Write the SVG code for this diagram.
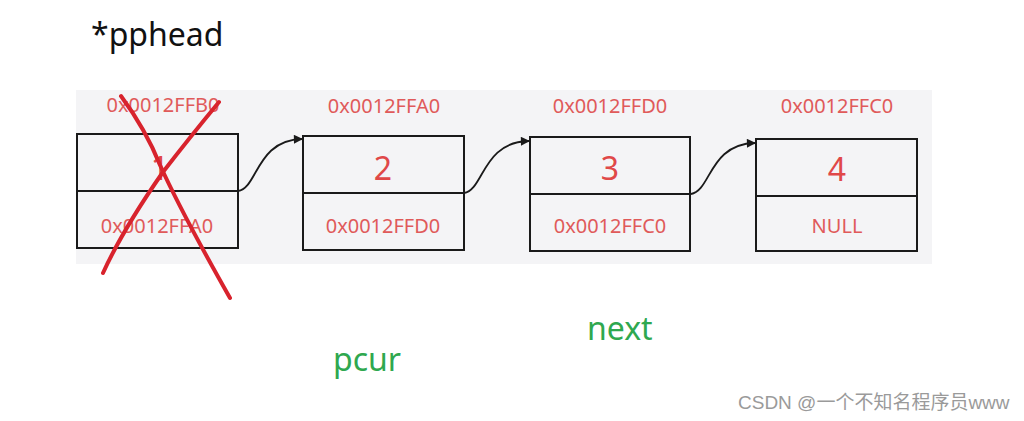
<svg xmlns="http://www.w3.org/2000/svg" width="1024" height="421" viewBox="0 0 1024 421">
<style>
.box{fill:none;stroke:#1a1a1a;stroke-width:2}
.addr{font-family:"Noto Sans","Open Sans",sans-serif;font-size:20px;fill:#e05a5a;text-anchor:middle}
.num{font-family:"Noto Sans","Open Sans",sans-serif;font-size:32px;fill:#e04848;text-anchor:middle}
.conn{fill:none;stroke:#1a1a1a;stroke-width:1.8}
.lbl{font-family:"Noto Sans","Open Sans",sans-serif;font-size:32px}
</style>
<defs>
<marker id="ah" viewBox="0 0 10 10" refX="9" refY="5" markerWidth="10" markerHeight="9" markerUnits="userSpaceOnUse" orient="auto">
<path d="M0,0 L10,5 L0,10 Z" fill="#1a1a1a"/>
</marker>
</defs>
<rect width="1024" height="421" fill="#ffffff"/>
<rect x="76" y="90" width="856" height="174" fill="#f4f4f6"/>
<text class="lbl" x="91" y="46" fill="#111" font-size="33">*pphead</text>
<g id="node1">
<text class="addr" x="163" y="112">0x0012FFB0</text>
<rect class="box" x="77" y="134" width="161" height="114"/>
<line class="box" x1="77" y1="191" x2="238" y2="191"/>
<text class="num" x="160" y="180">1</text>
<text class="addr" x="157" y="233">0x0012FFA0</text>
</g>
<g id="node2">
<text class="addr" x="384" y="113">0x0012FFA0</text>
<rect class="box" x="303" y="136" width="161" height="114"/>
<line class="box" x1="303" y1="193" x2="464" y2="193"/>
<text class="num" x="383" y="180">2</text>
<text class="addr" x="383" y="233">0x0012FFD0</text>
</g>
<g id="node3">
<text class="addr" x="610" y="113">0x0012FFD0</text>
<rect class="box" x="530" y="137" width="160" height="114"/>
<line class="box" x1="530" y1="194" x2="690" y2="194"/>
<text class="num" x="610" y="180">3</text>
<text class="addr" x="610" y="233">0x0012FFC0</text>
</g>
<g id="node4">
<text class="addr" x="837" y="113">0x0012FFC0</text>
<rect class="box" x="756" y="139" width="161" height="112"/>
<line class="box" x1="756" y1="196" x2="917" y2="196"/>
<text class="num" x="837" y="181">4</text>
<text class="addr" x="837" y="233">NULL</text>
</g>
<g id="connectors">
<path class="conn" d="M238,191 C258,188 256,140 302,139" marker-end="url(#ah)"/>
<path class="conn" d="M464,193 C484,190 482,142 529,141" marker-end="url(#ah)"/>
<path class="conn" d="M691,194 C711,191 709,144 755,143" marker-end="url(#ah)"/>
</g>
<g id="cross" fill="none" stroke="#d8232d" stroke-width="4" stroke-linecap="round">
<path d="M121,96 C135,115 150,140 160,165 C178,205 200,245 230,298"/>
<path d="M219,102 C200,125 180,150 163,172 C140,205 118,240 103,273"/>
</g>
<text class="lbl" x="333" y="371" fill="#2fa84f">pcur</text>
<text class="lbl" x="587" y="340" fill="#2fa84f">next</text>
<text x="738" y="409" font-family="'Liberation Sans','Noto Sans CJK SC',sans-serif" font-size="19" fill="#9a9a9a">CSDN @一个不知名程序员www</text>
</svg>
